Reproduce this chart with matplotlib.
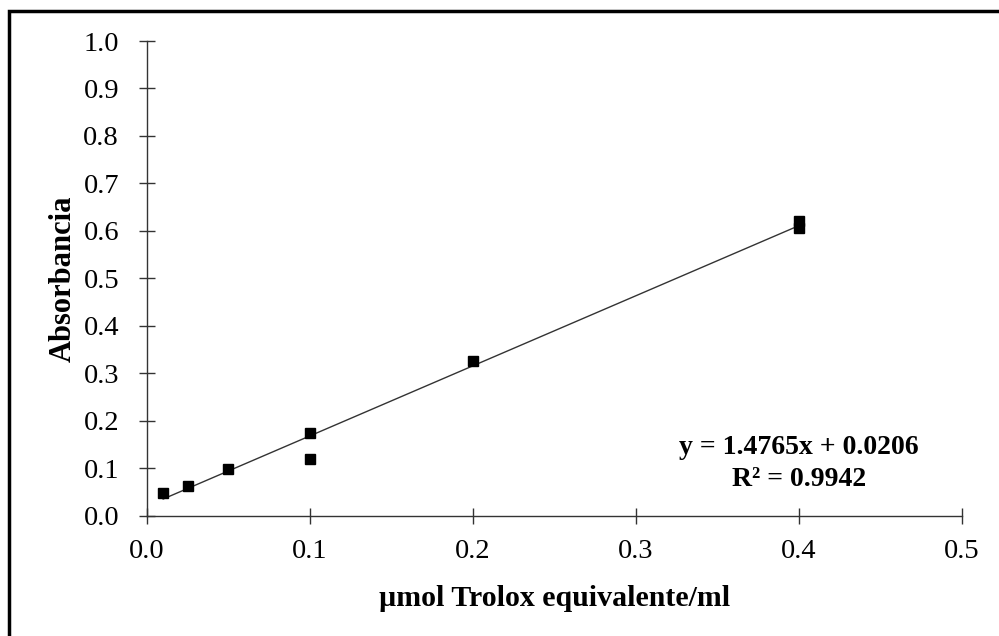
import matplotlib.pyplot as plt
import numpy as np
from matplotlib.patches import Rectangle

# calibration points
conc = [0.01, 0.025, 0.05, 0.1, 0.1, 0.2, 0.4, 0.4]
absorb = [0.047, 0.062, 0.098, 0.175, 0.120, 0.325, 0.620, 0.607]
slope = 1.4765
intercept = 0.0206
r2 = 0.9942
xticks = [0.0, 0.1, 0.2, 0.3, 0.4, 0.5]
yticks = [0.0, 0.1, 0.2, 0.3, 0.4, 0.5, 0.6, 0.7, 0.8, 0.9, 1.0]

plt.rcParams['font.family'] = ['Liberation Serif', 'DejaVu Serif']

fig = plt.figure(figsize=(9.99, 6.36), dpi=100)
ax = fig.add_axes([0.147, 0.189, 0.816, 0.7465])

# outer frame (right/bottom edges fall outside the image)
fig.patches.append(Rectangle((9/999, -0.1), 1.2, 1 - 11/636 + 0.1, transform=fig.transFigure,
                             fill=False, edgecolor="black", linewidth=2.5, zorder=0))

xl = np.array([min(conc), max(conc)])
ax.plot(xl, slope*xl + intercept, color="#333333", linewidth=1.0, zorder=2)
ax.plot(conc, absorb, linestyle="none", marker="s", markersize=6.5, color="black", zorder=3)

ax.set_xlim(0, 0.5)
ax.set_ylim(0, 1.0)
ax.set_xticks(xticks)
ax.set_yticks(yticks)
ax.set_xticklabels([f"{v:.1f}" for v in xticks])
ax.set_yticklabels([f"{v:.1f}" for v in yticks])
ax.tick_params(direction="inout", length=12, width=1, labelsize=20.5, color="#333333")
ax.tick_params(axis="y", pad=14)
ax.tick_params(axis="x", pad=11)

for s in ["top", "right"]:
    ax.spines[s].set_visible(False)
for s in ["left", "bottom"]:
    ax.spines[s].set_color("#333333")
    ax.spines[s].set_linewidth(1)

ax.set_xlabel("µmol Trolox equivalente/ml", fontsize=21.5, fontweight="bold", labelpad=15)
ax.set_ylabel("Absorbancia", fontsize=22, fontweight="bold", labelpad=4)

ax.text(0.4, 0.11, f"y = {slope}x + {intercept}\nR² = {r2}", fontsize=20, fontweight="bold",
        ha="center", va="center", linespacing=1.4)

fig.savefig("out.png", dpi=100)
